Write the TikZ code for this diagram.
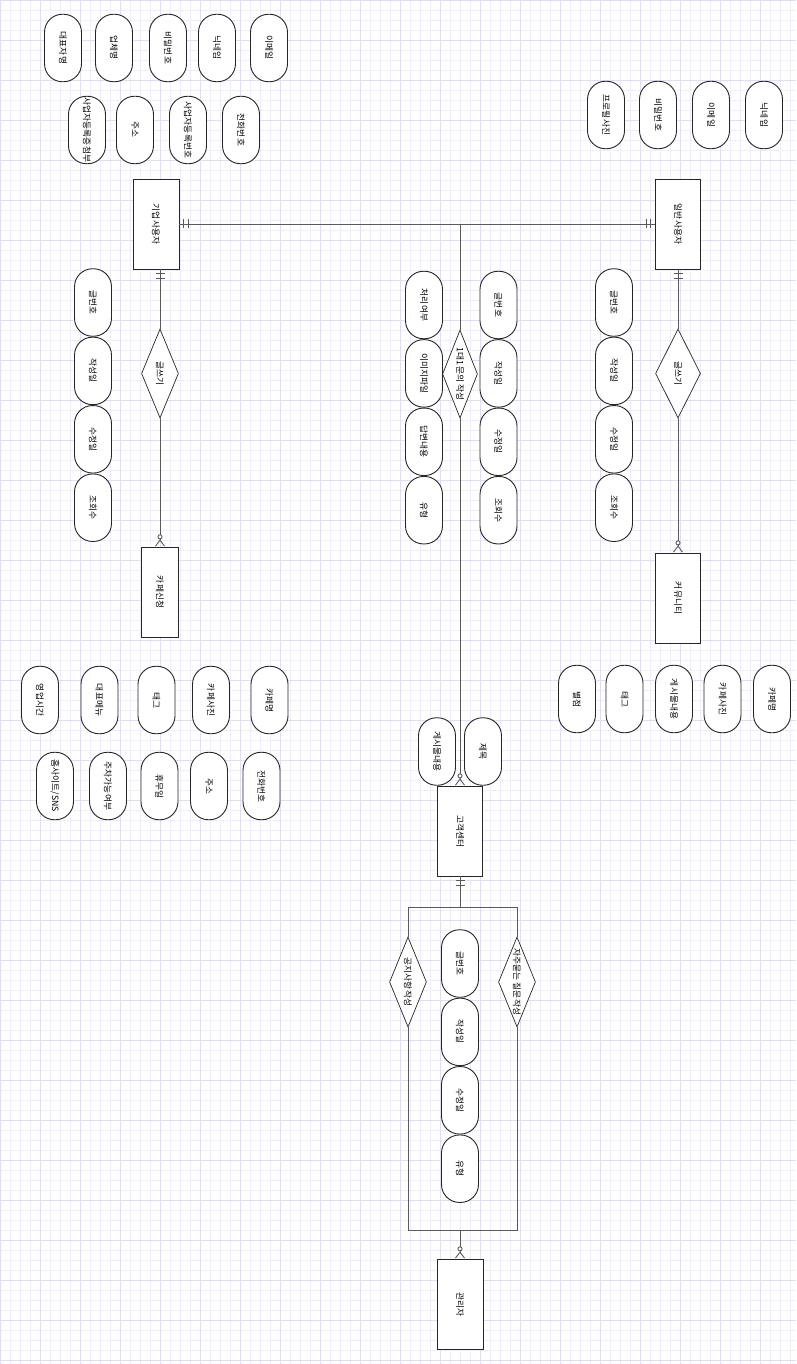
\documentclass[tikz,border=0pt]{standalone}
\usepackage{graphicx}
\usepackage{fontspec}
\setmainfont{Noto Sans CJK KR}
\usepackage{tikz}
\usetikzlibrary{shapes, arrows.meta, positioning, calc}

\definecolor{linegray}{RGB}{90,90,90}
\definecolor{gridminor}{RGB}{238,238,251}
\definecolor{gridmajor}{RGB}{222,222,247}

% rotated label, sized to nothing so the shape keeps its own size
\newcommand{\vlabel}[1]{\rotatebox{-90}{\makebox[0pt]{#1}}}

\begin{document}
\begin{tikzpicture}[x=1pt, y=-1pt,
    line/.style={draw=linegray, line width=0.9pt},
    entity/.style={draw=black!85, fill=white, line width=0.9pt, rectangle, minimum width=46pt, minimum height=90pt, inner sep=0pt, font=\fontsize{8.7}{11}\selectfont},
    attr/.style={draw=black!85, fill=white, line width=0.9pt, rectangle, rounded corners=18pt, minimum width=37pt, minimum height=67.5pt, inner sep=0pt, font=\fontsize{8.7}{11}\selectfont},
    rel/.style={draw=black!85, fill=white, line width=0.7pt, diamond, minimum width=37pt, minimum height=89pt, inner sep=0pt, font=\fontsize{8.7}{11}\selectfont},
    mand/.tip={Bar[width=9pt,sep=3.5pt]Bar[width=9pt]},
    many/.tip={Circle[length=5pt,fill=white,sep=0pt]Straight Barb[reversed,length=6pt,width=9pt]}]
    \useasboundingbox (0,0) rectangle (796,1364);
    \fill[white] (0,0) rectangle (796,1364);
    \draw[gridminor, step=10pt, line width=0.4pt] (0,1364) grid (796,0);
    \draw[gridmajor, step=40pt, line width=0.5pt] (0,1364) grid (796,0);

    % business user
    \node [attr] (ceo) at (63,48) {\vlabel{대표자명}};
    \node [attr] (corp) at (114,48) {\vlabel{업체명}};
    \node [attr] (kpw) at (168,48) {\vlabel{비밀번호}};
    \node [attr] (knick) at (217,48) {\vlabel{닉네임}};
    \node [attr] (kmail) at (269,48) {\vlabel{이메일}};
    \node [attr] (bizfile) at (87,130) {\vlabel{사업자등록증 첨부}};
    \node [attr] (kaddr) at (135,130) {\vlabel{주소}};
    \node [attr] (biznum) at (188,130) {\vlabel{사업자등록번호}};
    \node [attr] (ktel) at (241,130) {\vlabel{전화번호}};
    \node [entity] (kiup) at (156,224) {\vlabel{기업 사용자}};

    % general user
    \node [attr] (photo) at (606,115) {\vlabel{프로필 사진}};
    \node [attr] (ipw) at (658,115) {\vlabel{비밀번호}};
    \node [attr] (imail) at (711,115) {\vlabel{이메일}};
    \node [attr] (inick) at (764,115) {\vlabel{닉네임}};
    \node [entity, minimum width=45pt] (ilban) at (678,224) {\vlabel{일반 사용자}};

    % cafe request
    \node [rel] (kwrite) at (160,373.5) {\vlabel{글쓰기}};
    \node [attr] (kno) at (93,302.5) {\vlabel{글번호}};
    \node [attr, below=0pt of kno] (kdate) {\vlabel{작성일}};
    \node [attr, below=0pt of kdate] (kmod) {\vlabel{수정일}};
    \node [attr, below=0pt of kmod] (kview) {\vlabel{조회수}};
    \node [entity, minimum width=37pt] (cafe) at (160,592) {\vlabel{카페신청}};

    % inquiry
    \node [rel, minimum width=35pt, minimum height=88pt] (qna) at (460,374) {\vlabel{1대1 문의 작성}};
    \node [attr] (done) at (424,305) {\vlabel{처리 여부}};
    \node [attr, below=0pt of done] (img) {\vlabel{이미지파일}};
    \node [attr, below=0pt of img] (answer) {\vlabel{답변내용}};
    \node [attr, below=0pt of answer] (qtype) {\vlabel{유형}};
    \node [attr] (qno) at (498.5,305) {\vlabel{글번호}};
    \node [attr, below=0pt of qno] (qdate) {\vlabel{작성일}};
    \node [attr, below=0pt of qdate] (qmod) {\vlabel{수정일}};
    \node [attr, below=0pt of qmod] (qview) {\vlabel{조회수}};

    % community
    \node [rel, minimum width=45pt] (iwrite) at (678,373.5) {\vlabel{글쓰기}};
    \node [attr] (ino) at (614,302.5) {\vlabel{글번호}};
    \node [attr, below=0pt of ino] (idate) {\vlabel{작성일}};
    \node [attr, below=0pt of idate] (imod) {\vlabel{수정일}};
    \node [attr, below=0pt of imod] (iview) {\vlabel{조회수}};
    \node [entity, minimum width=45pt] (comm) at (678,598) {\vlabel{커뮤니티}};

    % cafe attributes
    \node [attr] (hours) at (40,700) {\vlabel{영업시간}};
    \node [attr] (menu) at (99.5,700) {\vlabel{대표메뉴}};
    \node [attr] (ctag) at (156.5,700) {\vlabel{태그}};
    \node [attr] (cphoto) at (211,700) {\vlabel{카페사진}};
    \node [attr] (cname) at (269.5,700) {\vlabel{카페명}};
    \node [attr] (sns) at (55,786) {\vlabel{홈사이트/SNS}};
    \node [attr] (park) at (108,786) {\vlabel{주차가능 여부}};
    \node [attr] (off) at (159.5,786) {\vlabel{휴무일}};
    \node [attr] (caddr) at (209,786) {\vlabel{주소}};
    \node [attr] (ctel) at (261.5,786) {\vlabel{전화번호}};

    % community attributes
    \node [attr] (star) at (577,699) {\vlabel{별점}};
    \node [attr] (mtag) at (624.5,699) {\vlabel{태그}};
    \node [attr] (post) at (674,699) {\vlabel{게시물내용}};
    \node [attr] (mphoto) at (722.5,699) {\vlabel{카페사진}};
    \node [attr] (mname) at (772,699) {\vlabel{카페명}};

    % service center
    \node [attr] (cspost) at (437,751.5) {\vlabel{게시물내용}};
    \node [attr] (cstitle) at (483,751.5) {\vlabel{제목}};
    \node [entity, minimum width=45pt] (cs) at (460,831) {\vlabel{고객센터}};

    % admin
    \node [rel, minimum height=90pt] (notice) at (408,982) {\vlabel{공지사항 작성}};
    \node [rel, minimum height=90pt] (faq) at (517,982) {\vlabel{자주묻는 질문 작성}};
    \node [attr] (ano) at (460,963.5) {\vlabel{글번호}};
    \node [attr, below=0pt of ano] (adate) {\vlabel{작성일}};
    \node [attr, below=0pt of adate] (amod) {\vlabel{수정일}};
    \node [attr, below=0pt of amod] (atype) {\vlabel{유형}};
    \node [entity] (admin) at (460,1304) {\vlabel{관리자}};

    \coordinate (jn) at (qna |- kiup);
    \coordinate (ctop) at (460,907);
    \coordinate (cbot) at (460,1230);

    \draw [line, postaction={draw, mand-mand, shorten <=4pt, shorten >=4pt}] (kiup) -- (ilban);
    \draw [line] (jn) -- (qna);
    \draw [line, -many] (qna) -- (cs);
    \draw [line, postaction={draw, mand-, shorten <=4pt}] (kiup.south -| kwrite) -- (kwrite);
    \draw [line, -many] (kwrite) -- (cafe);
    \draw [line, postaction={draw, mand-, shorten <=4pt}] (ilban) -- (iwrite);
    \draw [line, -many] (iwrite) -- (comm);
    \draw [line, postaction={draw, mand-, shorten <=4pt}] (cs) -- (ctop);
    \draw [line] (ctop) -| (notice) |- (cbot) -| (faq) |- (ctop);
    \draw [line, -many] (cbot) -- (admin);
\end{tikzpicture}
\end{document}
